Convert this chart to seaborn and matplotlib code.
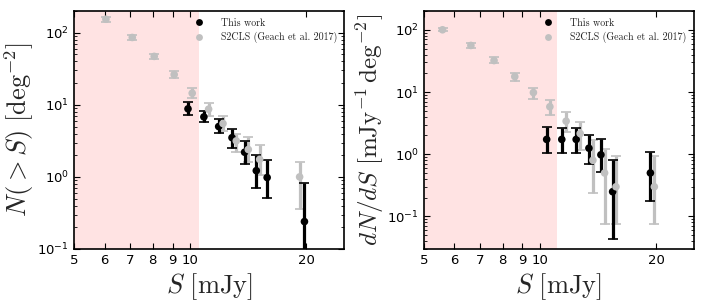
import numpy as np
import pandas as pd
import seaborn as sns
import matplotlib.pyplot as plt
from matplotlib.ticker import FixedLocator, FixedFormatter, NullLocator, LogLocator

# --- data ---
# cumulative counts N(>S)
s2cls_cum_S = [6.05, 7.08, 8.07, 9.09, 10.12, 11.16, 12.16, 13.16, 14.14, 15.13, 19.2]
s2cls_cum_N = [154, 86, 47, 26.3, 14.5, 8.7, 5.5, 3.16, 2.4, 1.75, 1.0]
s2cls_cum_lo = [143, 80, 43, 23.5, 12.4, 7.1, 4.3, 2.2, 1.6, 1.06, 0.36]
s2cls_cum_hi = [168, 93, 51, 29.5, 17.2, 10.7, 6.9, 4.0, 3.6, 2.8, 1.6]

work_cum_S = [9.87, 10.85, 11.85, 12.83, 13.83, 14.83, 15.82, 19.76]
work_cum_N = [8.8, 6.8, 5.0, 3.5, 2.2, 1.22, 0.98, 0.24]
work_cum_lo = [7.3, 5.7, 4.1, 2.5, 1.5, 0.70, 0.51, 0.01]
work_cum_hi = [10.9, 8.1, 6.4, 4.6, 3.16, 2.0, 1.7, 0.81]

# differential counts dN/dS
s2cls_diff_S = [5.59, 6.62, 7.6, 8.6, 9.61, 10.6, 11.68, 12.7, 13.7, 14.69, 15.72, 19.76]
s2cls_diff_N = [100, 56, 32, 17.7, 9.8, 5.8, 3.4, 2.15, 0.8, 0.5, 0.30, 0.30]
s2cls_diff_lo = [94, 51, 29, 15.1, 7.7, 4.3, 2.3, 1.17, 0.24, 0.076, 0.076, 0.076]
s2cls_diff_hi = [107, 62, 36, 20.4, 11.7, 7.5, 4.75, 3.3, 1.7, 1.2, 0.92, 0.92]

work_diff_S = [10.4, 11.38, 12.4, 13.38, 14.37, 15.41, 19.3]
work_diff_N = [1.73, 1.73, 1.73, 1.25, 0.98, 0.25, 0.50]
work_diff_lo = [1.04, 1.06, 1.06, 0.70, 0.51, 0.043, 0.177]
work_diff_hi = [2.7, 2.6, 2.6, 2.0, 1.73, 0.8, 1.1]

x_ticks = [5, 6, 7, 8, 9, 10, 20]
shade_limits = [10.55, 11.07]   # incompleteness region edge for each panel

sns.set_style('ticks')
plt.rcParams['font.family'] = ['DejaVu Sans']

fig = plt.figure(figsize=(7.04, 3.07), dpi=100)
ax1 = fig.add_axes([0.105, 0.189, 0.3835, 0.775])
ax2 = fig.add_axes([0.602, 0.189, 0.3835, 0.775])

GRAY = '#c0c0c0'


def panel(ax, gS, gN, glo, ghi, bS, bN, blo, bhi, shade, ylim, ylabel, ysize):
    ax.axvspan(5, shade, color='red', alpha=0.11, lw=0, zorder=0)
    gN, glo, ghi = np.array(gN), np.array(glo), np.array(ghi)
    bN, blo, bhi = np.array(bN), np.array(blo), np.array(bhi)
    ax.errorbar(gS, gN, yerr=[gN - glo, ghi - gN], fmt='none', ecolor=GRAY,
                elinewidth=2.3, capsize=3.5, capthick=1.2, zorder=2)
    ax.errorbar(bS, bN, yerr=[bN - blo, bhi - bN], fmt='none', ecolor='black',
                elinewidth=2.3, capsize=3.5, capthick=1.2, zorder=3)
    df = pd.concat([
        pd.DataFrame({'S': bS, 'N': bN, 'set': 'This work'}),
        pd.DataFrame({'S': gS, 'N': gN, 'set': 'S2CLS (Geach et al. 2017)'}),
    ])
    sns.scatterplot(data=df, x='S', y='N', hue='set', ax=ax,
                    palette={'This work': 'black', 'S2CLS (Geach et al. 2017)': GRAY},
                    s=30, linewidth=0, zorder=4)
    ax.set_xscale('log')
    ax.set_yscale('log')
    ax.set_xlim(5, 25)
    ax.set_ylim(*ylim)
    ax.xaxis.set_major_locator(FixedLocator(x_ticks))
    ax.xaxis.set_major_formatter(FixedFormatter([str(t) for t in x_ticks]))
    ax.xaxis.set_minor_locator(NullLocator())
    ax.yaxis.set_minor_locator(LogLocator(base=10, subs=np.arange(2, 10), numticks=20))
    ax.tick_params(which='both', direction='in', top=True, right=True, labelsize=9.5,
                   colors='black')
    ax.tick_params(which='major', length=4, width=0.8)
    ax.tick_params(which='minor', length=2, width=0.6)
    for sp in ax.spines.values():
        sp.set_linewidth(1.2)
        sp.set_color('black')
    ax.set_xlabel(r'$S\ [\mathrm{mJy}]$', fontsize=19, math_fontfamily='cm', labelpad=3)
    ax.set_ylabel(ylabel, fontsize=ysize, math_fontfamily='cm', labelpad=1)
    ax.legend(loc='upper right', frameon=False, handletextpad=1.2,
              labelspacing=0.45, borderaxespad=0.3, markerscale=0.9,
              prop={'family': 'cmr10', 'size': 7.2})
    ax.grid(False)


panel(ax1, s2cls_cum_S, s2cls_cum_N, s2cls_cum_lo, s2cls_cum_hi,
      work_cum_S, work_cum_N, work_cum_lo, work_cum_hi,
      shade_limits[0], (0.1, 200), r'$N(>S)\ [\mathrm{deg}^{-2}]$', 19)
panel(ax2, s2cls_diff_S, s2cls_diff_N, s2cls_diff_lo, s2cls_diff_hi,
      work_diff_S, work_diff_N, work_diff_lo, work_diff_hi,
      shade_limits[1], (0.03, 200), r'$dN/dS\ [\mathrm{mJy}^{-1}\,\mathrm{deg}^{-2}]$', 18)

fig.savefig('out.png', dpi=100)
